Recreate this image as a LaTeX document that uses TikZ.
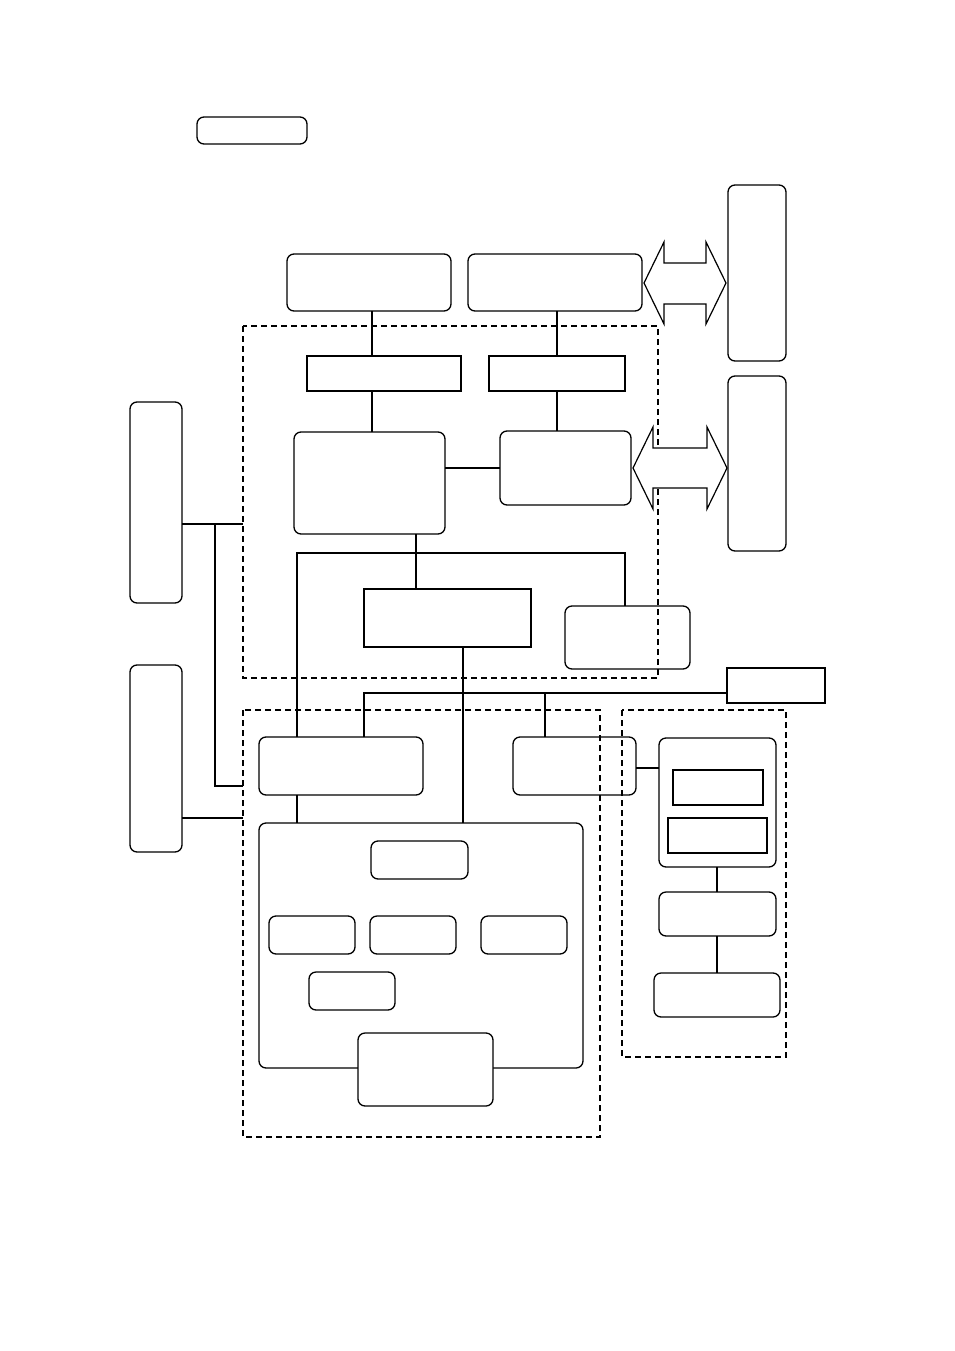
\documentclass[tikz,border=0pt]{standalone}
\begin{document}
\begin{tikzpicture}[x=1pt,y=-1pt,
  rb/.style={draw,rounded corners=7pt,line width=1.3pt},
  sb/.style={draw,line width=1.3pt},
  dz/.style={draw,dash pattern=on 6pt off 4pt,line width=1.1pt},
  th/.style={line width=2.6pt}]
\useasboundingbox[fill=white] (0,0) rectangle (954,1351);
\path[rb] (197,117) rectangle (307,144);
\path[rb] (287,254) rectangle (451,311);
\path[rb] (468,254) rectangle (642,311);
\path[rb] (728,185) rectangle (786,361);
\path[rb] (728,376) rectangle (786,551);
\path[dz] (243,326) rectangle (658,678);
\path[sb] (307,356) rectangle (461,391);
\path[sb] (489,356) rectangle (625,391);
\path[rb] (294,432) rectangle (445,534);
\path[rb] (500,431) rectangle (631,505);
\path[sb] (364,589) rectangle (531,647);
\path[rb] (565,606) rectangle (690,669);
\path[rb] (130,402) rectangle (182,603);
\path[rb] (130,665) rectangle (182,852);
\path[sb] (727,668) rectangle (825,703);
\path[dz] (243,710) rectangle (600,1137);
\path[dz] (622,710) rectangle (786,1057);
\path[rb] (259,737) rectangle (423,795);
\path[rb] (513,737) rectangle (636,795);
\path[rb] (259,823) rectangle (583,1068);
\path[rb] (371,841) rectangle (468,879);
\path[rb] (269,916) rectangle (355,954);
\path[rb] (370,916) rectangle (456,954);
\path[rb] (481,916) rectangle (567,954);
\path[rb] (309,972) rectangle (395,1010);
\path[rb,fill=white] (358,1033) rectangle (493,1106);
\path[rb] (659,738) rectangle (776,867);
\path[sb] (673,770) rectangle (763,805);
\path[sb] (668,818) rectangle (767,853);
\path[rb] (659,892) rectangle (776,936);
\path[rb] (654,973) rectangle (780,1017);
% double arrows
\draw[line width=1.2pt,fill=white] (644,283) -- (664,242) -- (664,263) -- (706,263) -- (706,242) -- (726,283) -- (706,324) -- (706,304) -- (664,304) -- (664,324) -- cycle;
\draw[line width=1.2pt,fill=white] (633,468) -- (653,427) -- (653,448) -- (707,448) -- (707,427) -- (727,468) -- (707,509) -- (707,488) -- (653,488) -- (653,509) -- cycle;
% lines
\draw[th] (372,311)--(372,356) (372,391)--(372,432);
\draw[th] (557,311)--(557,356) (557,391)--(557,431);
\draw[th] (445,468)--(500,468);
\draw[th] (416,534)--(416,589);
\draw[th] (297,737)--(297,553)--(625,553)--(625,606);
\draw[th] (463,647)--(463,823);
\draw[th] (364,737)--(364,693)--(727,693) (545,693)--(545,737);
\draw[th] (297,795)--(297,823);
\draw[th] (636,768)--(659,768);
\draw[th] (717,867)--(717,892) (717,936)--(717,973);
\draw[th] (182,524)--(243,524) (215,524)--(215,786)--(243,786) (182,818)--(243,818);
\end{tikzpicture}
\end{document}
